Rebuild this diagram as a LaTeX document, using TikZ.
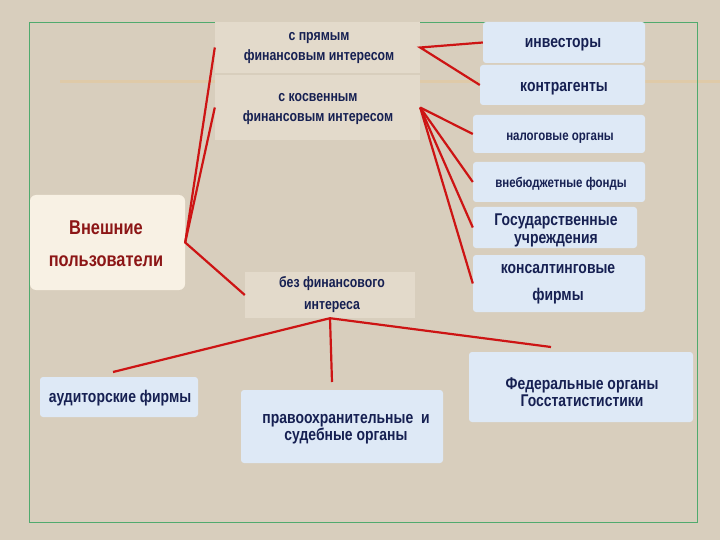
\documentclass[tikz,border=0pt]{standalone}
\usepackage{fontspec}
\setmainfont[FakeStretch=0.82]{Liberation Sans}
\definecolor{bg}{RGB}{216,206,189}
\definecolor{beigebox}{RGB}{227,218,203}
\definecolor{bluebox}{RGB}{222,233,246}
\definecolor{creambox}{RGB}{248,241,228}
\definecolor{navy}{RGB}{22,32,82}
\definecolor{darkred}{RGB}{140,22,22}
\definecolor{conn}{RGB}{205,20,20}
\definecolor{framegreen}{RGB}{80,170,110}
\definecolor{stripe}{RGB}{228,200,155}
\tikzset{
  shapebox/.style={inner sep=0pt},
  bluen/.style={shapebox, fill=bluebox, rounded corners=3pt},
  beigen/.style={shapebox, fill=beigebox},
  lbl/.style={inner sep=0pt, align=center, text=navy},
  one/.style={lbl, text height=12pt, text depth=3.6pt},
  fnorm/.style={font=\bfseries\fontsize{17}{17}\selectfont},
  fsmall/.style={font=\bfseries\fontsize{15}{20}\selectfont},
  ftiny/.style={font=\bfseries\fontsize{14}{16}\selectfont},
  link/.style={draw=conn, line width=2.2pt},
}
\begin{document}
\begin{tikzpicture}[x=1pt,y=-1pt]
\fill[bg] (0,0) rectangle (720,540);
\useasboundingbox (0,0) rectangle (720,540);
\draw[stripe, line width=3pt, opacity=0.6] (60,82) -- (720,82);
\draw[framegreen, line width=0.8pt] (29,22) rectangle (697,522);

% boxes
\node[beigen, minimum width=205pt, minimum height=51pt] (pr) at (317.5,47.5) {};
\node[beigen, minimum width=205pt, minimum height=65pt] (kos) at (317.5,107.5) {};
\node[beigen, minimum width=170pt, minimum height=46pt] (bf) at (330,295) {};
\node[shapebox, fill=creambox, rounded corners=6pt, minimum width=155pt, minimum height=95pt] (ext) at (107.5,242.5) {};
\node[bluen, minimum width=162pt, minimum height=41pt] (inv) at (564,42.5) {};
\node[bluen, minimum width=165pt, minimum height=40pt] (kontr) at (562.5,85) {};
\node[bluen, minimum width=172pt, minimum height=38pt] (nal) at (559,134) {};
\node[bluen, minimum width=172pt, minimum height=40pt] (vneb) at (559,182) {};
\node[bluen, minimum width=164pt, minimum height=41pt] (gos) at (555,227.5) {};
\node[bluen, minimum width=172pt, minimum height=57pt] (kons) at (559,283.5) {};
\node[bluen, minimum width=224pt, minimum height=70pt] (fed) at (581,387) {};
\node[bluen, minimum width=202pt, minimum height=73pt] (prav) at (342,426.5) {};
\node[bluen, minimum width=158pt, minimum height=40pt] (aud) at (119,397) {};

% texts
\node[lbl, fsmall] (prT) at (319,48) {с прямым\\финансовым интересом};
\node[lbl, fsmall] (kosT) at (318,109) {с косвенным\\финансовым интересом};
\node[lbl, font=\bfseries\fontsize{15}{22}\selectfont] (bfT) at (332,295) {без финансового\\интереса};
\node[lbl, text=darkred, font=\bfseries\fontsize{20}{32}\selectfont] (extT) at (106,244) {Внешние\\пользователи};
\node[one, fnorm] (invT) at (563,43) {инвесторы};
\node[one, fnorm] (kontrT) at (564,87) {контрагенты};
\node[one, ftiny] (nalT) at (560,136) {налоговые органы};
\node[one, ftiny] (vnebT) at (561,183) {внебюджетные фонды};
\node[lbl, font=\bfseries\fontsize{17}{18}\selectfont] (gosT) at (556,230) {Государственные\\учреждения};
\node[lbl, font=\bfseries\fontsize{17}{27}\selectfont] (konsT) at (558,284.5) {консалтинговые\\фирмы};
\node[lbl, fnorm] (fedT) at (582,392.5) {Федеральные органы\\Госстатистистики};
\node[lbl, fnorm] (pravT) at (346,429.5) {правоохранительные\ \ и\\судебные органы};
\node[one, fnorm] (audT) at (120,398) {аудиторские фирмы};

\coordinate (audend) at (113,372);
\coordinate (pravend) at (332,382);
\coordinate (fedend) at (551,347);

% connectors
\draw[link] (pr.west) -- (ext.east) -- (bf.west);
\draw[link] (kos.west) -- (ext.east);
\draw[link] (inv.west) -- (pr.east) -- (kontr.west);
\draw[link] (kos.east) -- (nal.west);
\draw[link] (kos.east) -- (vneb.west);
\draw[link] (kos.east) -- (gos.west);
\draw[link] (kos.east) -- (kons.west);
\draw[link] (bf.south) -- (audend);
\draw[link] (bf.south) -- (pravend);
\draw[link] (bf.south) -- (fedend);
\end{tikzpicture}
\end{document}
